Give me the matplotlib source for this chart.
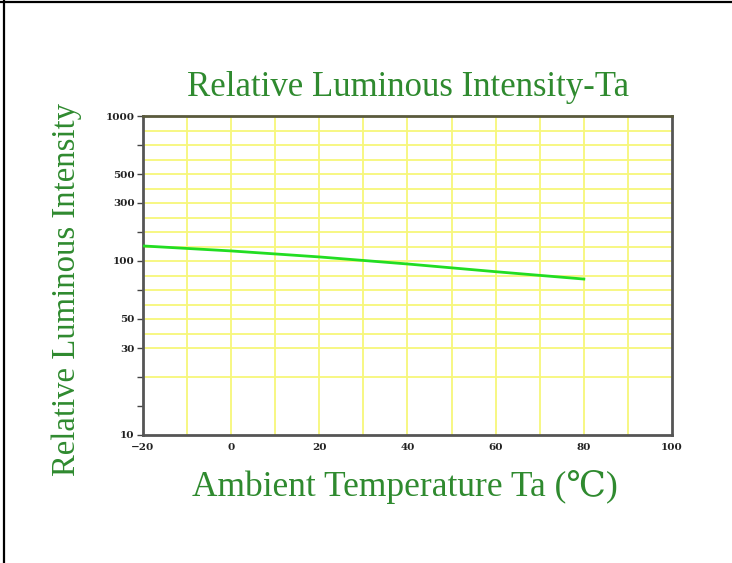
import numpy as np
import matplotlib
matplotlib.use("Agg")
import matplotlib.pyplot as plt
from matplotlib.lines import Line2D
from matplotlib.ticker import FixedLocator, NullFormatter

# data
temps = [-20, 0, 20, 40, 60, 80]
intensity = [133, 121, 108, 96.5, 88, 80.6]

x_ticks = [-20, 0, 20, 40, 60, 80, 100]
y_labels = [10, 30, 50, 100, 300, 500, 1000]
# the chart's y axis is not a true log axis: labels sit on evenly spaced
# tick slots (counted from the bottom)
y_slots = [0, 3, 4, 6, 8, 9, 11]
minor_slots = [1, 2, 5, 7, 10]
grid_slots = [2, 3, 3.5, 4, 4.5, 5, 5.5, 6, 6.5, 7, 7.5, 8, 8.5, 9, 9.5, 10, 10.5, 11]
x_grid = [-10, 0, 10, 20, 30, 40, 50, 60, 70, 80, 90]

log_lab = np.log10(y_labels)


def fwd(v):
    v = np.clip(np.asarray(v, dtype=float), 1e-9, None)
    return np.interp(np.log10(v), log_lab, y_slots)


def inv(p):
    return 10 ** np.interp(p, y_slots, log_lab)


green_txt = "#2f8a2f"
serif = ["Liberation Serif", "DejaVu Serif"]

fig = plt.figure(figsize=(7.32, 5.63), dpi=100)
ax = fig.add_axes([143 / 732, 1 - 435 / 563, 529 / 732, 319 / 563])
ax.set_yscale("function", functions=(fwd, inv))
ax.set_xlim(-20, 100)
ax.set_ylim(10, 1000)

for g in x_grid:
    ax.axvline(g, color="#f7f77a", lw=1.3, zorder=1)
for s in grid_slots:
    ax.axhline(inv(s), color="#f7f77a", lw=1.3, zorder=1)

ax.plot(temps, intensity, color="#22dd22", lw=2, zorder=3)

ax.yaxis.set_major_locator(FixedLocator(y_labels))
ax.set_yticklabels([str(v) for v in y_labels])
ax.yaxis.set_minor_locator(FixedLocator([inv(s) for s in minor_slots]))
ax.yaxis.set_minor_formatter(NullFormatter())
ax.tick_params(axis="y", which="both", direction="out", length=4, width=1,
               color="#444444", pad=2)
ax.set_xticks(x_ticks)
ax.set_xticklabels([str(v).replace("-", "\u2212") for v in x_ticks])
ax.tick_params(axis="x", length=0, pad=6)
for lab in ax.get_xticklabels() + ax.get_yticklabels():
    lab.set_fontfamily("DejaVu Serif")
    lab.set_fontweight("bold")
    lab.set_fontsize(7.5)
    lab.set_color("#222222")

for side in ["left", "bottom", "right"]:
    ax.spines[side].set_color("#555555")
    ax.spines[side].set_linewidth(2)
ax.spines["top"].set_color("#5a5a3c")
ax.spines["top"].set_linewidth(2)

fig.text(408 / 732, 1 - 87 / 563, "Relative Luminous Intensity-Ta",
         ha="center", va="center", fontsize=25, color=green_txt, family=serif)
fig.text(405 / 732, 1 - 487 / 563, "Ambient Temperature Ta (\u2103)",
         ha="center", va="center", fontsize=25.5, color=green_txt, family=serif)
fig.text(67 / 732, 1 - 289 / 563, "Relative Luminous Intensity",
         ha="center", va="center", rotation=90, fontsize=23.6, color=green_txt,
         family=serif)

# page frame (left and top edges only)
fig.add_artist(Line2D([4 / 732, 4 / 732], [0, 1], color="black", lw=1.6,
                      transform=fig.transFigure))
fig.add_artist(Line2D([0, 1], [1 - 1.5 / 563, 1 - 1.5 / 563], color="black",
                      lw=1.6, transform=fig.transFigure))

fig.savefig("out.png", dpi=100)
